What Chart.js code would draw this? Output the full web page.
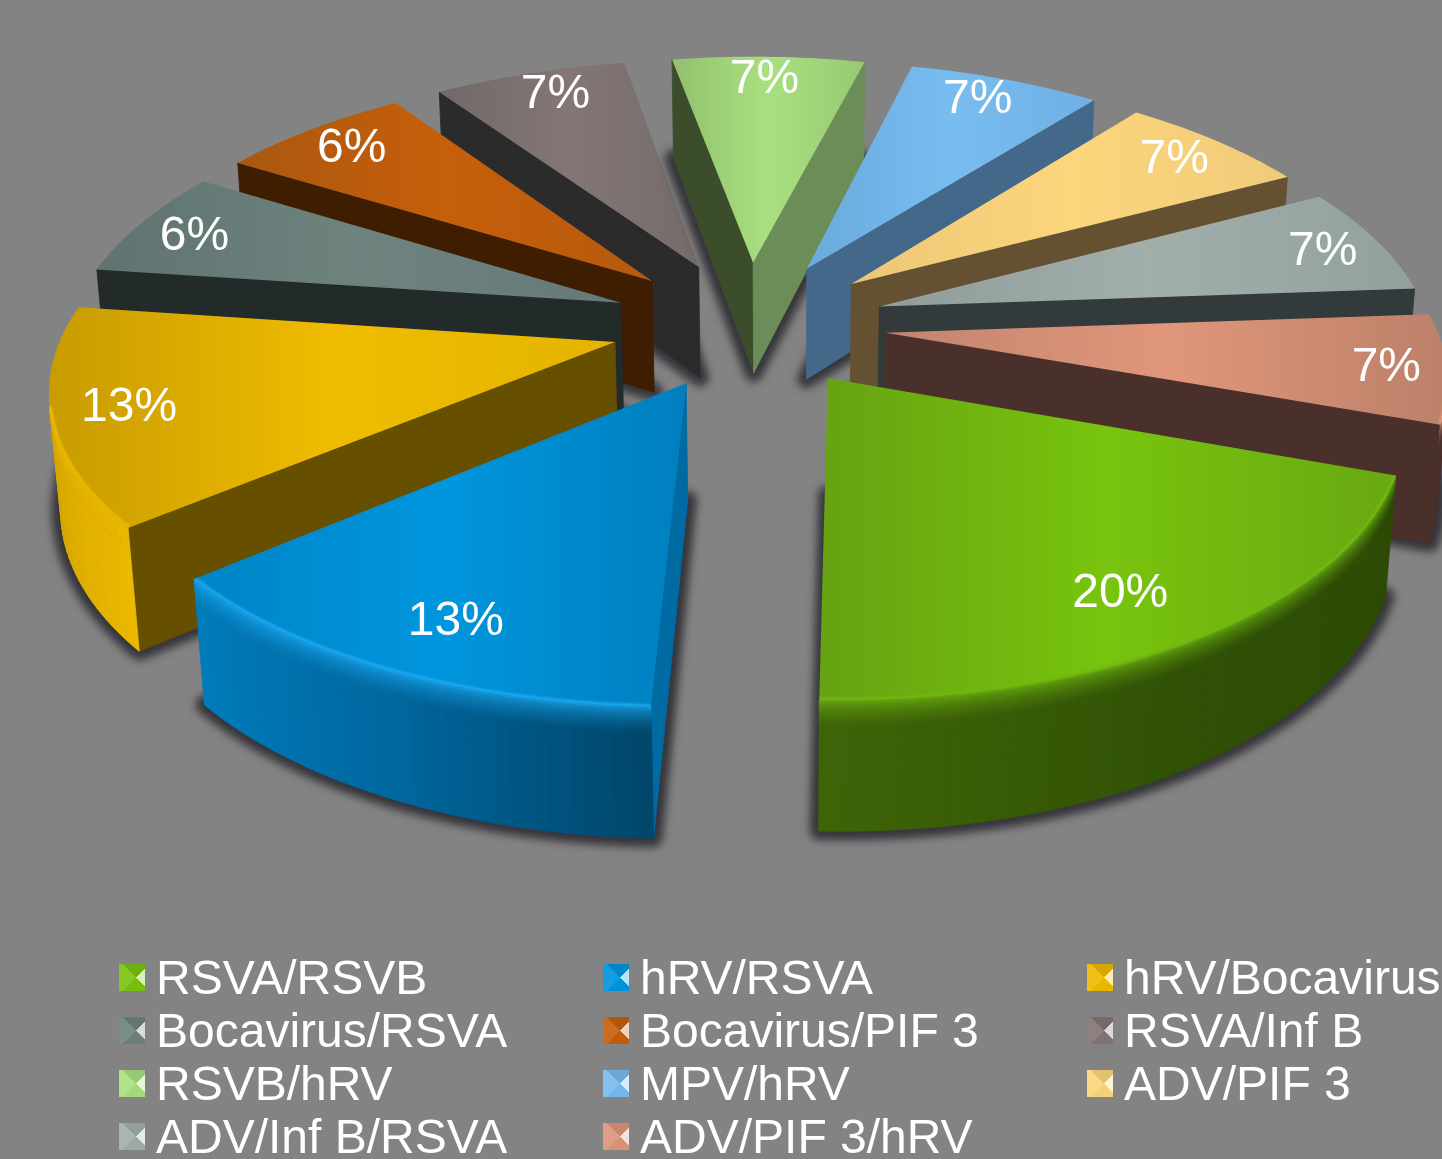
<!DOCTYPE html>
<html>
<head>
<meta charset="utf-8">
<script src="https://cdn.jsdelivr.net/npm/chart.js@4"></script>
<style>
    html, body { margin: 0; background: #838383; overflow: hidden; }
    #wrap { position: relative; width: 1442px; height: 1159px; }
    #chart { position: absolute; left: 0; top: 0; }
    #legend {
        position: absolute; left: 119px; top: 951px;
        display: grid; grid-template-columns: repeat(3, 484px); grid-auto-rows: 53px;
        font: 48px "Liberation Sans", Arial, sans-serif; color: #fff; line-height: 53px;
    }
    .item { display: flex; align-items: center; white-space: nowrap; }
    .mark { width: 26px; height: 27px; margin-right: 11px; flex: none; }
</style>
</head>
<body>
<div id="wrap">
    <canvas id="chart" width="1442" height="1159"></canvas>
    <div id="legend"></div>
</div>
<script>
const labels = ['RSVA/RSVB', 'hRV/RSVA', 'hRV/Bocavirus', 'Bocavirus/RSVA', 'Bocavirus/PIF 3', 'RSVA/Inf B',
    'RSVB/hRV', 'MPV/hRV', 'ADV/PIF 3', 'ADV/Inf B/RSVA', 'ADV/PIF 3/hRV'];
const cases = [3, 2, 2, 1, 1, 1, 1, 1, 1, 1, 1];
const percentLabels = ['20%', '13%', '13%', '6%', '6%', '7%', '7%', '7%', '7%', '7%', '7%'];

// top face: left side, middle, right side
const topLeft = ['#66a212', '#0084c6', '#c89b00', '#5f7370', '#aa5711', '#716a68', '#92c06e', '#6aaadc', '#ecc676', '#8f9d9a', '#c28470'];
const topMid = ['#78c40e', '#0096de', '#efbc00', '#6e837e', '#c65f0a', '#837674', '#a9e07f', '#78bcf0', '#fcd67c', '#a1afab', '#e0967a'];
const topRight = ['#68a812', '#007fbf', '#e4b400', '#66797a', '#b65a0e', '#746c6a', '#98c874', '#70b0e4', '#f0ca78', '#93a19e', '#bc8069'];
// radial walls: [start side, end side]
const walls = [['#2c4c04', '#3f6408'], ['#006aa3', '#0078b8'], ['#665000', '#b88c00'], ['#222a2a', '#222a2a'], ['#3f1d00', '#3f1d00'],
    ['#2b2b2b', '#2b2b2b'], ['#3c4d2c', '#6c8c58'], ['#44688a', '#44688a'], ['#635131', '#635131'], ['#333a3b', '#333a3b'], ['#4a302b', '#4a302b']];
// outer rim from start angle to end angle
const rims = [['#2c4a04', '#2f5005', '#3f6408'], ['#00466a', '#0068a0', '#007cbc'], ['#ecb800', '#d8a800', '#c09200'], ['#222a2a', '#222a2a', '#222a2a'],
    ['#3f1d00', '#3f1d00', '#3f1d00'], ['#2b2b2b', '#2b2b2b', '#2b2b2b'], ['#3c4d2c', '#3c4d2c', '#6c8c58'], ['#44688a', '#44688a', '#44688a'],
    ['#635131', '#635131', '#635131'], ['#333a3b', '#333a3b', '#333a3b'], ['#4a302b', '#4a302b', '#4a302b']];
const bevels = ['#70b810', '#1aa9f2', '#eebb00', '#6e837e', '#c65f0a', '#837674', '#a9e07f', '#78bcf0', '#fcd67c', '#a1afab', '#e0967a'];

// label place inside each slice: distance from the tip, fraction of the sweep
const labelDist = [0.826, 0.833, 0.868, 0.881, 0.879, 0.886, 0.890, 0.888, 0.876, 0.884, 0.892];
const labelFrac = [0.523, 0.468, 0.510, 0.469, 0.509, 0.546, 0.479, 0.445, 0.483, 0.516, 0.501];

const paintOrder = [5, 6, 7, 8, 4, 9, 3, 10, 2, 0, 1];
const explode = 0.25;
const bevelDepth = 0.2;
const bevelBands = 12;

// camera matrix fitted against the picture, plane unit = pie radius, z = 1 is the bottom face
const cam = [0.54455, -0.13741, 0.01212, 0.74851, 0.00836, 0.20506, 0.12011, 0.32401, -0.00624, -0.15167, 0.01541];

function project(u, v, z) {
    const w = cam[8] * u + cam[9] * v + cam[10] * z + 1;
    return [1000 * (cam[0] * u + cam[1] * v + cam[2] * z + cam[3]) / w,
            1000 * (cam[4] * u + cam[5] * v + cam[6] * z + cam[7]) / w];
}

function rgb(hex) {
    return [1, 3, 5].map(i => parseInt(hex.substr(i, 2), 16));
}

function mix(a, b, t) {
    const p = rgb(a), q = rgb(b);
    return '#' + p.map((c, i) => Math.round(c + (q[i] - c) * t).toString(16).padStart(2, '0')).join('');
}

function poly(ctx, pts) {
    ctx.beginPath();
    pts.forEach((p, i) => i ? ctx.lineTo(p[0], p[1]) : ctx.moveTo(p[0], p[1]));
    ctx.closePath();
}

function fillQuad(ctx, pts, color) {
    poly(ctx, pts);
    ctx.fillStyle = color;
    ctx.strokeStyle = color;
    ctx.lineWidth = 0.8;
    ctx.fill();
    ctx.stroke();
}

// visible when the drop of the edge points away from the slice
function edgeVisible(a, b, drop) {
    const dx = b[0] - a[0], dy = b[1] - a[1];
    return drop[0] * dy - drop[1] * dx > 0;
}

function rimColor(i, t) {
    const s = rims[i];
    return t < 0.5 ? mix(s[0], s[1], t * 2) : mix(s[1], s[2], t * 2 - 1);
}

function drawSlice(ctx, arc, i) {
    const a0 = arc.startAngle, a1 = arc.endAngle, mid = (a0 + a1) / 2;
    const ox = explode * Math.cos(mid), oy = explode * Math.sin(mid);
    const steps = Math.max(12, Math.round((a1 - a0) * 50));
    const rim = [];
    for (let k = 0; k <= steps; k++) {
        const a = a0 + (a1 - a0) * k / steps;
        rim.push([ox + Math.cos(a), oy + Math.sin(a)]);
    }
    const at = (p, z) => project(p[0], p[1], z);
    const tip = [ox, oy];
    const outline = [tip].concat(rim);

    // soft shadow under the bottom face
    ctx.save();
    ctx.filter = 'blur(4px)';
    poly(ctx, outline.map(p => at(p, 1)));
    ctx.fillStyle = 'rgba(48,48,54,0.9)';
    ctx.strokeStyle = 'rgba(48,48,54,0.9)';
    ctx.lineJoin = 'round';
    ctx.lineWidth = 18;
    ctx.stroke();
    ctx.fill();
    ctx.restore();

    // radial walls
    const first = rim[0], last = rim[steps];
    const tipTop = at(tip, 0), tipLow = at(tip, 1);
    const dropTip = [tipLow[0] - tipTop[0], tipLow[1] - tipTop[1]];
    if (edgeVisible(tipTop, at(first, 0), dropTip)) {
        fillQuad(ctx, [tipTop, at(first, 0), at(first, 1), tipLow], walls[i][0]);
    }
    if (edgeVisible(at(last, 0), tipTop, dropTip)) {
        fillQuad(ctx, [at(last, 0), tipTop, tipLow, at(last, 1)], walls[i][1]);
    }

    // outer rim, lit along the top edge and fading down
    const visibleRim = [];
    for (let k = 0; k < steps; k++) {
        const p = rim[k], q = rim[k + 1];
        const pt = at(p, 0), qt = at(q, 0), pb = at(p, 1);
        if (!edgeVisible(pt, qt, [pb[0] - pt[0], pb[1] - pt[1]])) continue;
        const col = rimColor(i, (k + 0.5) / steps);
        fillQuad(ctx, [at(p, bevelDepth), at(q, bevelDepth), at(q, 1), at(p, 1)], col);
        for (let b = 0; b < bevelBands; b++) {
            const z0 = bevelDepth * b / bevelBands, z1 = bevelDepth * (b + 1) / bevelBands;
            const c = mix(bevels[i], col, Math.sqrt((b + 0.5) / bevelBands));
            fillQuad(ctx, [at(p, z0), at(q, z0), at(q, z1), at(p, z1)], c);
        }
        visibleRim.push(p, q);
    }

    // top face
    const top = outline.map(p => at(p, 0));
    const xs = top.map(p => p[0]);
    const grad = ctx.createLinearGradient(Math.min(...xs), 0, Math.max(...xs), 0);
    grad.addColorStop(0, topLeft[i]);
    grad.addColorStop(0.5, topMid[i]);
    grad.addColorStop(1, topRight[i]);
    poly(ctx, top);
    ctx.fillStyle = grad;
    ctx.fill();

    // thin soft highlight where the top meets the lit rim
    if (visibleRim.length) {
        ctx.save();
        poly(ctx, top);
        ctx.clip();
        ctx.filter = 'blur(1px)';
        ctx.beginPath();
        visibleRim.forEach((p, k) => {
            const s = at(p, 0);
            k ? ctx.lineTo(s[0], s[1]) : ctx.moveTo(s[0], s[1]);
        });
        ctx.strokeStyle = bevels[i];
        ctx.lineWidth = 5;
        ctx.stroke();
        ctx.restore();
    }
}

const pie3d = {
    id: 'pie3d',
    beforeDatasetsDraw(chart) {
        const ctx = chart.ctx;
        const arcs = chart.getDatasetMeta(0).data;
        paintOrder.forEach(i => drawSlice(ctx, arcs[i], i));

        ctx.fillStyle = '#fff';
        ctx.font = '48px "Liberation Sans", Arial, sans-serif';
        ctx.textAlign = 'center';
        ctx.textBaseline = 'middle';
        arcs.forEach((arc, i) => {
            const mid = (arc.startAngle + arc.endAngle) / 2;
            const a = arc.startAngle + (arc.endAngle - arc.startAngle) * labelFrac[i];
            const p = project(explode * Math.cos(mid) + labelDist[i] * Math.cos(a),
                              explode * Math.sin(mid) + labelDist[i] * Math.sin(a), 0);
            ctx.fillText(percentLabels[i], p[0] + 1, p[1] + 3);
        });
        return false;
    }
};

new Chart(document.getElementById('chart'), {
    type: 'pie',
    data: {
        labels: labels,
        datasets: [{ data: cases, backgroundColor: topMid, borderWidth: 0 }]
    },
    options: {
        responsive: false,
        animation: false,
        events: [],
        rotation: 107.5,
        plugins: { legend: { display: false }, tooltip: { enabled: false } }
    },
    plugins: [pie3d]
});

// legend, three columns filled row by row
const legend = document.getElementById('legend');
labels.forEach((name, i) => {
    const item = document.createElement('div');
    item.className = 'item';
    const mark = document.createElement('span');
    mark.className = 'mark';
    const base = topMid[i];
    mark.style.background = 'conic-gradient(from 45deg at 66% 50%, ' +
        mix(base, '#ffffff', 0.72) + ' 0 90deg, ' + mix(base, '#000000', 0.03) + ' 90deg 180deg, ' +
        mix(base, '#ffffff', 0.08) + ' 180deg 270deg, ' + mix(base, '#000000', 0.1) + ' 270deg 360deg)';
    item.appendChild(mark);
    item.appendChild(document.createTextNode(name));
    legend.appendChild(item);
});
</script>
</body>
</html>
